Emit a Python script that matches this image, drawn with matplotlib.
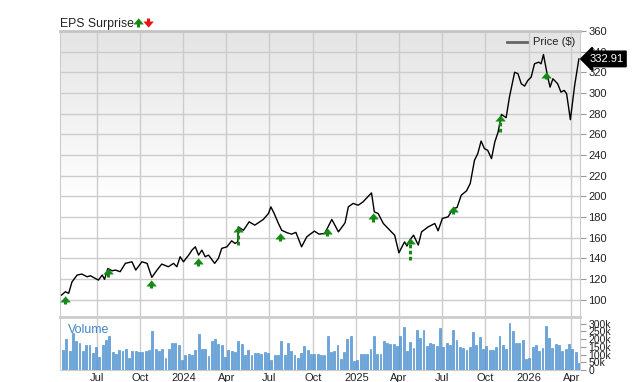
import numpy as np
import pandas as pd
import matplotlib
matplotlib.use('Agg')
import matplotlib.pyplot as plt
import matplotlib.dates as mdates
import matplotlib.transforms as mtransforms
from matplotlib.lines import Line2D
from matplotlib.ticker import FuncFormatter

plt.rcParams['font.family'] = ['Liberation Sans', 'DejaVu Sans']

# price line
price_dates = [
    '2023-04-18', '2023-04-26', '2023-05-03', '2023-05-10', '2023-05-21', '2023-05-31',
    '2023-06-11', '2023-06-18', '2023-06-28', '2023-07-05', '2023-07-13', '2023-07-18',
    '2023-07-25', '2023-08-03', '2023-08-10', '2023-08-20', '2023-08-31', '2023-09-14',
    '2023-09-22', '2023-10-05', '2023-10-16', '2023-10-26', '2023-11-06', '2023-11-16',
    '2023-11-30', '2023-12-11', '2023-12-18', '2023-12-25', '2024-01-01', '2024-01-12',
    '2024-01-19', '2024-01-26', '2024-02-02', '2024-02-09', '2024-02-16', '2024-02-23',
    '2024-03-07', '2024-03-15', '2024-03-22', '2024-04-02', '2024-04-12', '2024-04-19',
    '2024-04-25', '2024-04-26', '2024-05-07', '2024-05-19', '2024-05-31', '2024-06-18',
    '2024-06-29', '2024-07-04', '2024-07-11', '2024-07-20', '2024-07-27', '2024-08-08',
    '2024-08-17', '2024-08-26', '2024-09-07', '2024-09-18', '2024-10-04', '2024-10-14',
    '2024-10-26', '2024-11-10', '2024-11-24', '2024-12-08', '2024-12-15', '2024-12-25',
    '2025-01-05', '2025-01-15', '2025-02-02', '2025-02-08', '2025-02-16', '2025-02-27',
    '2025-03-06', '2025-03-16', '2025-03-23', '2025-04-01', '2025-04-13', '2025-04-18',
    '2025-04-24', '2025-05-02', '2025-05-12', '2025-05-19', '2025-06-02', '2025-06-16',
    '2025-06-23', '2025-07-02', '2025-07-14', '2025-07-25', '2025-08-02', '2025-08-11',
    '2025-08-22', '2025-08-30', '2025-09-08', '2025-09-15', '2025-09-22', '2025-09-29',
    '2025-10-06', '2025-10-14', '2025-10-21', '2025-10-28', '2025-11-04', '2025-11-14',
    '2025-11-21', '2025-12-02', '2025-12-09', '2025-12-16', '2025-12-23', '2025-12-30',
    '2026-01-06', '2026-01-13', '2026-01-22', '2026-01-27', '2026-02-01', '2026-02-10',
    '2026-02-15', '2026-02-21', '2026-03-03', '2026-03-10', '2026-03-17', '2026-03-22',
    '2026-03-30', '2026-04-08', '2026-04-17',
]
price_values = [
    104.3, 107.5, 106.0, 117.0, 123.7, 124.6,
    122.0, 123.0, 120.5, 118.8, 123.7, 119.5,
    130.0, 127.8, 128.5, 126.9, 135.0, 136.5,
    128.5, 136.5, 135.0, 121.4, 128.5, 134.3,
    131.7, 135.0, 131.7, 141.4, 136.5, 143.0,
    147.8, 151.0, 143.0, 147.8, 141.4, 143.0,
    135.0, 139.8, 149.5, 151.0, 156.8, 154.3,
    155.8, 170.3, 167.0, 175.2, 172.0, 177.5,
    183.3, 189.7, 183.3, 173.6, 167.0, 164.5,
    163.3, 165.0, 151.0, 160.7, 166.2, 163.3,
    164.0, 177.5, 165.5, 174.2, 189.7, 193.0,
    191.3, 194.5, 203.2, 184.8, 183.3, 173.6,
    170.3, 165.5, 162.3, 145.2, 155.8, 151.7,
    157.5, 162.3, 152.7, 165.5, 170.3, 173.6,
    166.5, 178.5, 180.0, 188.1, 189.0, 201.0,
    205.1, 212.3, 234.8, 241.3, 253.4, 246.1,
    244.4, 236.4, 252.5, 262.1, 279.2, 276.0,
    296.0, 320.0, 318.6, 308.9, 306.6, 312.1,
    315.3, 328.2, 329.8, 328.2, 337.2, 315.3,
    305.6, 313.7, 308.9, 300.8, 302.4, 299.2,
    274.1, 307.3, 332.91,
]

# EPS surprise arrows: date, arrow top, arrow bottom
earn_dates = ['2023-04-25', '2023-07-25', '2023-10-24', '2024-01-31', '2024-04-26', '2024-07-23',
              '2024-10-30', '2025-02-05', '2025-04-25', '2025-07-24', '2025-10-31', '2026-02-07']
earn_top = [103.4, 130.4, 118.8, 140.0, 170.3, 164.3, 169.0, 183.6, 159.4, 190.3, 278.3, 320.0]
earn_bottom = [96.0, 121.7, 111.0, 132.4, 152.7, 157.0, 161.5, 175.5, 138.2, 183.0, 261.8, 313.0]

# weekly volume (thousands)
volume = [
    133, 202, 126, 241, 187, 178, 126, 159, 159, 113, 152, 83, 163, 196, 222, 120,
    107, 130, 126, 137, 76, 122, 126, 120, 120, 124, 130, 254, 137, 122, 135, 76,
    135, 174, 178, 159, 67, 96, 107, 100, 130, 235, 137, 137, 93, 191, 202, 170,
    165, 87, 130, 124, 120, 187, 170, 98, 133, 98, 109, 111, 107, 115, 111, 63,
    98, 98, 191, 100, 176, 126, 100, 80, 111, 154, 130, 104, 104, 104, 96, 96,
    217, 120, 126, 159, 74, 117, 202, 217, 61, 67, 104, 104, 104, 137, 217, 104,
    104, 191, 174, 170, 170, 154, 217, 278, 126, 183, 143, 257, 209, 257, 154, 178,
    170, 154, 270, 148, 178, 163, 261, 196, 148, 143, 133, 152, 246, 161, 213, 135,
    154, 130, 130, 152, 220, 163, 135, 304, 250, 178, 174, 196, 70, 80, 152, 163,
    122, 143, 283, 209, 143, 170, 163, 126, 135, 170, 137, 115, 48,
]
vol_start = '2023-04-21'

x_start = '2023-04-15'
x_end = '2026-04-19'

GRID = '#cccccc'
TXT = '#222222'
GREEN = '#138a13'
RED = '#ee1111'

# arrow head: flat wide triangle
HEAD_UP = [(-1.0, -0.55), (1.0, -0.55), (0.0, 0.6)]
HEAD_DOWN = [(-1.0, 0.55), (1.0, 0.55), (0.0, -0.6)]

def fmt_month(x, pos):
    d = mdates.num2date(x)
    if d.month == 1:
        return str(d.year)
    return d.strftime('%b')

def main():
    pdates = pd.to_datetime(price_dates)
    edates = pd.to_datetime(earn_dates)
    vdates = pd.date_range(vol_start, periods=len(volume), freq='7D')

    fig = plt.figure(figsize=(6.4, 3.82), dpi=100)
    ax = fig.add_axes([0.094, 0.170, 0.812, 0.749])
    axv = fig.add_axes([0.094, 0.031, 0.812, 0.134], sharex=ax)

    #
    # price panel
    #
    grad = np.concatenate([np.linspace(0.895, 1.0, 190), np.ones(130)])[:, None]
    ax.imshow(np.dstack([grad, grad, grad]), extent=[0, 1, 0, 1], transform=ax.transAxes,
              aspect='auto', origin='upper', zorder=0)
    ax.set_ylim(83, 360)
    ax.set_xlim(pd.Timestamp(x_start), pd.Timestamp(x_end))
    ax.set_yticks(range(100, 361, 20))
    ax.yaxis.tick_right()
    ax.tick_params(axis='y', length=4, color='#999999', labelsize=8, labelcolor=TXT, pad=2)
    ax.tick_params(axis='x', length=0, labelbottom=False)
    ax.grid(True, color=GRID, lw=1)
    ax.set_axisbelow(True)
    for s in ['left', 'right', 'bottom']:
        ax.spines[s].set_color(GRID)
    ax.spines['top'].set_color('#c4c4c4')
    ax.spines['top'].set_linewidth(2)
    ax.spines['bottom'].set_linewidth(2)

    ax.plot(pdates, price_values, color='black', lw=1, zorder=3)

    for d, top, bot in zip(edates, earn_top, earn_bottom):
        ls = (0, (1.2, 0.8)) if top - bot > 10 else '-'
        ax.plot([d, d], [bot, top - 3], color=GREEN, lw=2.2, ls=ls, zorder=4,
                solid_capstyle='butt', dash_capstyle='butt')
        ax.plot([d], [top - 2.5], marker=HEAD_UP, ms=7, color=GREEN, mec=GREEN,
                mew=0.3, zorder=5, ls='none')

    # legend
    ax.plot([0.86, 0.898], [0.962, 0.962], transform=ax.transAxes, color='#666666', lw=2)
    ax.text(0.91, 0.962, 'Price ($)', transform=ax.transAxes, fontsize=8, color=TXT,
            va='center', ha='left')

    # last price tag
    trans = mtransforms.blended_transform_factory(ax.transAxes, ax.transData)
    ax.text(1.018, price_values[-1], '%.2f' % price_values[-1], transform=trans,
            fontsize=8, color='white', va='center', ha='left', zorder=10,
            bbox=dict(boxstyle='larrow,pad=0.25', fc='black', ec='black'))

    #
    # volume panel
    #
    axv.bar(vdates, np.array(volume) * 1000, width=4.0, color='#6aa5dc',
            edgecolor='#3f86c8', lw=0.4, zorder=3)
    axv.set_ylim(0, 330000)
    axv.set_yticks(range(0, 300001, 50000))
    axv.yaxis.set_major_formatter(FuncFormatter(lambda v, p: '0' if v == 0 else '%dk' % (v / 1000)))
    axv.yaxis.tick_right()
    axv.tick_params(axis='y', length=4, color='#999999', labelsize=7.5, labelcolor=TXT, pad=2)
    axv.xaxis.set_major_locator(mdates.MonthLocator(bymonth=[1, 4, 7, 10]))
    axv.xaxis.set_major_formatter(FuncFormatter(fmt_month))
    axv.tick_params(axis='x', length=0, labelsize=8, labelcolor=TXT, pad=2)
    axv.grid(True, axis='x', color=GRID, lw=1)
    axv.set_axisbelow(True)
    for s in ['left', 'right', 'bottom', 'top']:
        axv.spines[s].set_color(GRID)
    axv.spines['top'].set_visible(False)
    axv.text(0.015, 0.78, 'Volume', transform=axv.transAxes, fontsize=9, color='#3f86c8',
             va='center', ha='left')

    #
    # title with the two legend arrows
    #
    fig.text(0.094, 0.929, 'EPS Surprise', fontsize=8.8, color=TXT, va='baseline', ha='left')
    ty = 1 - 22.5 / 382
    for fx, col, head, sy in [(138 / 640, GREEN, HEAD_UP, -1), (148 / 640, RED, HEAD_DOWN, 1)]:
        fig.add_artist(Line2D([fx, fx], [ty + sy * 0.0005, ty + sy * 0.012], color=col, lw=2.2,
                              transform=fig.transFigure, solid_capstyle='butt'))
        fig.add_artist(Line2D([fx], [ty - sy * 0.004], marker=head, ms=7, color=col,
                              mec=col, mew=0.3, transform=fig.transFigure, ls='none'))

    fig.savefig('out.png', dpi=100)
    print('save out.png')

if __name__ == '__main__':
    main()
